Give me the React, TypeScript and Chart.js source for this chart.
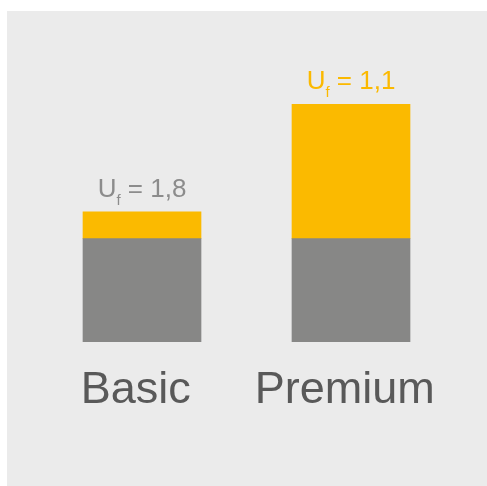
import React, { useEffect, useRef } from "react";
import { Chart, registerables } from "chart.js";

Chart.register(...registerables);

const categories = ["Basic", "Premium"];
const baseValues = [1.0, 1.0];
const topValues = [0.26, 1.3];
const ufLabels = ["1,8", "1,1"];
const labelColors = ["#8c8c8c", "#fbb900"];

const FONT = "'Liberation Sans', Arial, Helvetica, sans-serif";

const ufPlugin = {
  id: "ufLabels",
  afterDatasetsDraw(chart: any) {
    const ctx = chart.ctx;
    const meta = chart.getDatasetMeta(1);
    meta.data.forEach((bar: any, i: number) => {
      const cx = bar.x;
      const baseY = bar.y - 15;
      const mainFont = `26px ${FONT}`;
      const subFont = `15px ${FONT}`;
      const u = "U";
      const f = "f";
      const rest = " = " + ufLabels[i];
      ctx.save();
      ctx.font = mainFont;
      const wU = ctx.measureText(u).width;
      const wRest = ctx.measureText(rest).width;
      ctx.font = subFont;
      const wF = ctx.measureText(f).width;
      const total = wU + wF + wRest;
      let x = cx - total / 2;
      ctx.fillStyle = labelColors[i];
      ctx.textBaseline = "alphabetic";
      ctx.textAlign = "left";
      ctx.font = mainFont;
      ctx.fillText(u, x, baseY);
      x += wU;
      ctx.font = subFont;
      ctx.fillText(f, x, baseY + 8);
      x += wF;
      ctx.font = mainFont;
      ctx.fillText(rest, x, baseY);
      ctx.restore();
    });
  },
};

export default function App() {
  const ref = useRef<HTMLCanvasElement>(null);
  useEffect(() => {
    if (!ref.current) return;
    const chart = new Chart(ref.current, {
      type: "bar",
      data: {
        labels: categories,
        datasets: [
          { data: baseValues, backgroundColor: "#878786", barThickness: 118 },
          { data: topValues, backgroundColor: "#fbba00", barThickness: 118 },
        ],
      },
      options: {
        responsive: false,
        animation: false,
        layout: { padding: { left: 30.5, right: 31.5, top: 21, bottom: 46 } },
        plugins: { legend: { display: false }, tooltip: { enabled: false } },
        scales: {
          x: {
            stacked: true,
            grid: { display: false, drawTicks: false },
            border: { display: false },
            ticks: {
              color: "#595959",
              font: { family: FONT, size: 45 },
              padding: 22,
              callback: (_v: any, i: number) => categories[i] + " ",
            },
          },
          y: {
            stacked: true,
            display: false,
            min: 0,
            max: 3,
          },
        },
      },
      plugins: [ufPlugin],
    });
    return () => chart.destroy();
  }, []);
  return (
    <div
      style={{
        position: "absolute",
        left: 7,
        top: 11,
        width: 480,
        height: 475,
        background: "#ebebeb",
      }}
    >
      <canvas ref={ref} width={480} height={475} />
    </div>
  );
}
